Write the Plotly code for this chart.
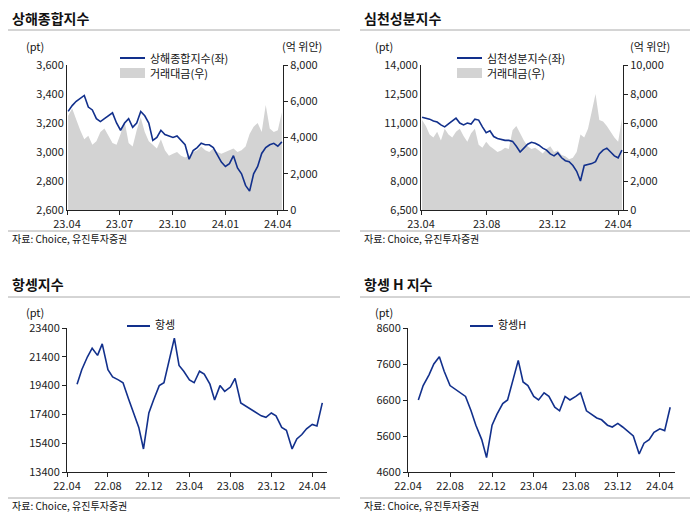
import plotly.graph_objects as go
import pandas as pd

# ---------- data ----------
sh_dates = pd.date_range("2023-04-03", "2024-04-08", freq="W-MON")
sh_index = [3280, 3320, 3350, 3370, 3390, 3310, 3290, 3230, 3210, 3230, 3250, 3270, 3200, 3150,
            3200, 3230, 3170, 3200, 3280, 3250, 3200, 3080, 3100, 3150, 3120, 3110, 3100, 3110,
            3080, 3050, 2950, 3010, 3030, 3060, 3050, 3050, 3030, 2980, 2930, 2900, 2920, 2975,
            2890, 2850, 2770, 2730, 2850, 2900, 2990, 3030, 3050, 3060, 3040, 3070]
sh_volume = [5200, 5600, 5000, 4400, 3900, 4100, 3600, 3800, 4300, 4500, 4100, 3700, 3600, 4200,
             4900, 3700, 3500, 4400, 5100, 4300, 3800, 3600, 3400, 3900, 3300, 3000, 3100, 3200,
             3000, 2900, 3000, 3200, 3300, 3500, 3300, 3200, 3400, 3200, 3100, 3200, 3300, 3400,
             3200, 3300, 3500, 4200, 4600, 4800, 4300, 5800, 4500, 4300, 4400, 5400]
sh_volume = sh_volume[:len(sh_dates)]
sh_index = sh_index[:len(sh_dates)]

sz_dates = sh_dates
sz_index = [11300, 11250, 11200, 11100, 11050, 10900, 10800, 10950, 11100, 11250, 11000, 10900,
            11000, 10950, 11200, 11150, 10800, 10500, 10600, 10300, 10200, 10150, 10100, 10100,
            10050, 9800, 9500, 9700, 9900, 10000, 9950, 9850, 9700, 9600, 9400, 9300, 9450,
            9200, 9050, 9000, 8800, 8500, 8000, 8800, 8850, 8900, 9000, 9400, 9600, 9700,
            9500, 9300, 9200, 9600]
sz_index = sz_index[:len(sz_dates)]
sz_volume = [6200, 5800, 5200, 5000, 5400, 4800, 5600, 5200, 5000, 5400, 5600, 5100, 4700, 5300,
             5600, 4500, 4300, 4700, 4400, 4200, 4000, 4100, 4300, 4200, 5500, 5800, 5300, 4800,
             4400, 4200, 4300, 4100, 3900, 4200, 4400, 4000, 4100, 3800, 3700, 3500, 3600, 4000,
             5200, 5000, 5600, 6800, 8000, 6200, 6100, 5800, 5400, 5000, 4700, 6300]
sz_volume = sz_volume[:len(sz_dates)]

hs_dates = pd.date_range("2022-05-01", "2024-05-01", freq="SMS")
hs_index = [19500, 20500, 21400, 22000, 21500, 22300, 20500, 20000, 19800, 19600, 18500, 17600,
            16500, 15000, 17500, 18400, 19400, 19600, 21400, 22700, 20800, 20400, 19800, 19600,
            20400, 20200, 19500, 18400, 19400, 19000, 19300, 19900, 18200, 18000, 17800, 17600,
            17300, 17200, 17500, 17300, 16500, 16300, 15000, 15700, 16000, 16400, 16700, 16600,
            18200]
hsh_index = [6600, 7000, 7300, 7600, 7800, 7400, 7000, 6900, 6800, 6700, 6300, 5900,
             5500, 5000, 5900, 6200, 6500, 6600, 7200, 7700, 7100, 7000, 6700, 6600,
             6800, 6700, 6400, 6300, 6700, 6600, 6700, 6800, 6300, 6200, 6100, 6050,
             5900, 5850, 5950, 5850, 5700, 5600, 5100, 5400, 5500, 5700, 5800, 5750,
             6400]
n = min(len(hs_dates), len(hs_index))
hs_dates = hs_dates[:n]; hs_index = hs_index[:n]; hsh_index = hsh_index[:n]

sh_ticks = [2600, 2800, 3000, 3200, 3400, 3600]
sh_vticks = [0, 2000, 4000, 6000, 8000]
sz_ticks = [6500, 8000, 9500, 11000, 12500, 14000]
sz_vticks = [0, 2000, 4000, 6000, 8000, 10000]
hs_ticks = [13400, 15400, 17400, 19400, 21400, 23400]
hsh_ticks = [4600, 5600, 6600, 7600, 8600]

NAVY = "#12308c"
GRAY = "#d3d3d3"
FONT = "Noto Sans CJK KR"
W, H, OFF = 684, 504, 8

def px(x):
    return (x - OFF) / W
def py(y):
    return 1 - (y - OFF) / H

fig = go.Figure()
fig.add_trace(go.Scatter(x=sh_dates, y=sh_volume, fill="tozeroy", mode="none", fillcolor=GRAY,
                         xaxis="x", yaxis="y"))
fig.add_trace(go.Scatter(x=sh_dates, y=sh_index, mode="lines", line=dict(color=NAVY, width=1.6),
                         xaxis="x", yaxis="y2"))
fig.add_trace(go.Scatter(x=sz_dates, y=sz_volume, fill="tozeroy", mode="none", fillcolor=GRAY,
                         xaxis="x2", yaxis="y3"))
fig.add_trace(go.Scatter(x=sz_dates, y=sz_index, mode="lines", line=dict(color=NAVY, width=1.6),
                         xaxis="x2", yaxis="y4"))
fig.add_trace(go.Scatter(x=hs_dates, y=hs_index, mode="lines", line=dict(color=NAVY, width=1.6),
                         xaxis="x3", yaxis="y5"))
fig.add_trace(go.Scatter(x=hs_dates, y=hsh_index, mode="lines", line=dict(color=NAVY, width=1.6),
                         xaxis="x4", yaxis="y6"))

tick = dict(size=11, color="#222", family=FONT)
axbase = dict(showgrid=False, zeroline=False, showline=True, linecolor="#222", linewidth=1,
              ticks="outside", ticklen=4, tickcolor="#222", tickfont=tick, automargin=False)

TOPY = [py(210), py(65)]
BOTY = [py(472), py(328)]
fmt = lambda v: [f"{t:,}" for t in v]
fig.update_layout(
    width=W, height=H, margin=dict(l=0, r=0, t=0, b=0, autoexpand=False), showlegend=False,
    plot_bgcolor="white", paper_bgcolor="white", font=dict(family=FONT),
    xaxis=dict(axbase, domain=[px(67), px(283)], anchor="y", range=["2023-04-01", "2024-04-10"],
               tickvals=["2023-04-01", "2023-07-01", "2023-10-01", "2024-01-01", "2024-04-01"],
               ticktext=["23.04", "23.07", "23.10", "24.01", "24.04"]),
    yaxis=dict(axbase, domain=TOPY, anchor="x", side="right", range=[0, 8000],
               tickvals=sh_vticks, ticktext=fmt(sh_vticks)),
    yaxis2=dict(axbase, overlaying="y", side="left", anchor="x", range=[2600, 3600],
                tickvals=sh_ticks, ticktext=fmt(sh_ticks), ticks=""),
    xaxis2=dict(axbase, domain=[px(421), px(623)], anchor="y3", range=["2023-04-01", "2024-04-10"],
                tickvals=["2023-04-01", "2023-08-01", "2023-12-01", "2024-04-01"],
                ticktext=["23.04", "23.08", "23.12", "24.04"]),
    yaxis3=dict(axbase, domain=TOPY, anchor="x2", side="right", range=[0, 10000],
                tickvals=sz_vticks, ticktext=fmt(sz_vticks)),
    yaxis4=dict(axbase, overlaying="y3", side="left", anchor="x2", range=[6500, 14000],
                tickvals=sz_ticks, ticktext=fmt(sz_ticks), ticks=""),
    xaxis3=dict(axbase, domain=[px(67), px(327)], anchor="y5", range=["2022-04-01", "2024-05-15"],
                tickvals=["2022-04-01", "2022-08-01", "2022-12-01", "2023-04-01", "2023-08-01",
                          "2023-12-01", "2024-04-01"],
                ticktext=["22.04", "22.08", "22.12", "23.04", "23.08", "23.12", "24.04"]),
    yaxis5=dict(axbase, domain=BOTY, anchor="x3", range=[13400, 23400],
                tickvals=hs_ticks, ticktext=[str(t) for t in hs_ticks]),
    xaxis4=dict(axbase, domain=[px(408), px(675)], anchor="y6", range=["2022-04-01", "2024-05-15"],
                tickvals=["2022-04-01", "2022-08-01", "2022-12-01", "2023-04-01", "2023-08-01",
                          "2023-12-01", "2024-04-01"],
                ticktext=["22.04", "22.08", "22.12", "23.04", "23.08", "23.12", "24.04"]),
    yaxis6=dict(axbase, domain=BOTY, anchor="x4", range=[4600, 8600],
                tickvals=hsh_ticks, ticktext=[str(t) for t in hsh_ticks]),
)

ann = []
shapes = []
def txt(x, y, t, size=11, bold=False, xanchor="left"):
    ann.append(dict(x=px(x), y=py(y), xref="paper", yref="paper", text=f"<b>{t}</b>" if bold else t,
                    showarrow=False, xanchor=xanchor, yanchor="middle",
                    font=dict(size=size, color="#111", family=FONT)))
def hline(x0, x1, y, color="#aaa"):
    shapes.append(dict(type="line", xref="paper", yref="paper", x0=px(x0), x1=px(x1),
                       y0=py(y), y1=py(y), line=dict(color=color, width=1)))
def legline(x0, x1, y):
    shapes.append(dict(type="line", xref="paper", yref="paper", x0=px(x0), x1=px(x1),
                       y0=py(y), y1=py(y), line=dict(color=NAVY, width=2)))
def legbox(x0, x1, y):
    shapes.append(dict(type="rect", xref="paper", yref="paper", x0=px(x0), x1=px(x1),
                       y0=py(y + 5), y1=py(y - 5), fillcolor=GRAY, line=dict(width=0)))

for (x0, x1, ty, title, ly, sy, sl) in [(10, 340, 18, "상해종합지수", 30, 239, 231),
                                        (362, 690, 18, "심천성분지수", 30, 239, 231),
                                        (10, 340, 284, "항셍지수", 297, 505, 498),
                                        (362, 690, 284, "항셍 H 지수", 297, 505, 498)]:
    txt(x0, ty, title, size=14, bold=True)
    hline(x0 - 2, x1, ly)
    hline(x0 - 2, x1, sl)
    txt(x0, sy, "자료: Choice, 유진투자증권", size=10)

txt(24, 46, "(pt)"); txt(280, 46, "(억 위안)")
txt(373, 46, "(pt)"); txt(628, 46, "(억 위안)")
txt(24, 312, "(pt)"); txt(373, 312, "(pt)")

legline(120, 145, 58); txt(148, 58, "상해종합지수(좌)")
legbox(120, 145, 73); txt(148, 73, "거래대금(우)")
legline(457, 482, 58); txt(485, 58, "심천성분지수(좌)")
legbox(457, 482, 73); txt(485, 73, "거래대금(우)")
legline(127, 150, 326); txt(153, 324, "항셍")
legline(470, 493, 326); txt(496, 324, "항셍H")

fig.update_layout(annotations=ann, shapes=shapes)
fig.write_html("out.html")
